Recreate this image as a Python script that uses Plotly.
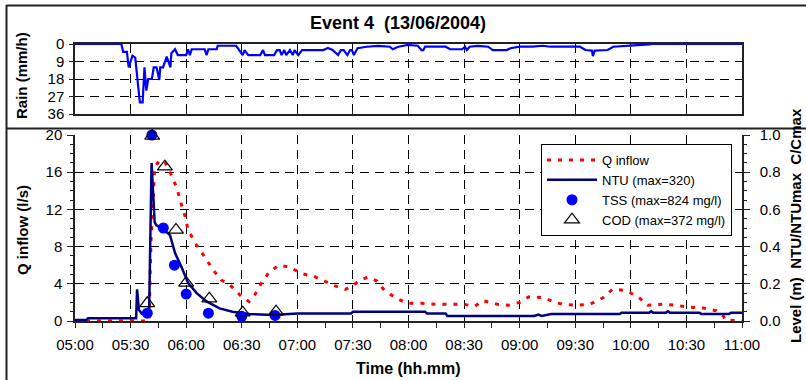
import pandas as pd
import plotly.graph_objects as go

DAY = "2004-06-13 "

# Rainfall intensity (mm/h)
rain_time = ["05:00:00", "05:25:00", "05:26:00", "05:28:00", "05:29:00", "05:31:00", "05:32:30",
             "05:35:00", "05:36:30", "05:37:30", "05:38:30", "05:39:30", "05:41:30", "05:42:30",
             "05:44:00", "05:45:30", "05:46:00", "05:47:30", "05:49:30", "05:51:30", "05:52:00",
             "05:54:00", "05:55:30", "06:00:00", "06:01:00", "06:02:00", "06:03:00", "06:10:00",
             "06:11:00", "06:12:00", "06:16:30", "06:17:00", "06:27:00", "06:28:30", "06:30:30",
             "06:31:30", "06:33:30", "06:40:00", "06:41:30", "06:42:30", "06:47:30", "06:49:00",
             "06:50:30", "06:51:30", "06:53:00", "06:54:00", "06:56:00", "06:57:30", "06:58:30",
             "07:00:30", "07:02:30", "07:14:00", "07:16:30", "07:19:00", "07:22:00", "07:23:30",
             "07:25:00", "07:27:00", "07:28:30", "07:29:30", "07:30:30", "07:32:30", "07:37:30",
             "07:43:30", "07:50:00", "07:51:30", "07:54:30", "07:59:30", "08:05:00", "08:07:00",
             "08:08:00", "08:09:00", "08:20:00", "08:22:30", "08:29:00", "08:30:30", "08:31:30",
             "08:33:00", "08:37:30", "08:43:00", "08:45:30", "08:53:00", "08:55:00", "09:00:00",
             "09:07:00", "09:12:30", "09:16:30", "09:32:30", "09:35:30", "09:39:00", "09:39:30",
             "09:40:30", "09:47:30", "09:50:30", "09:59:30", "10:03:00", "10:10:00", "10:11:30",
             "11:00:00"]
rain_mmh = [0, 0, 4, 4, 12, 6, 7,
            30, 30, 12, 24, 18, 18, 12,
            12, 18.5, 12, 12, 6.5, 12, 4.7,
            2.7, 5.7, 5.7, 2.7, 5.7, 2.7, 2.7,
            5.7, 2.7, 2.7, 0.9, 0.9, 2.7, 5.7,
            3.1, 5.7, 5.7, 3.1, 5.7, 5.7, 3.1,
            3.1, 5.7, 3.1, 5.7, 3.1, 5.7, 3.1,
            5.7, 3.1, 3.1, 2.0, 3.1, 5.7, 3.1,
            3.1, 5.7, 3.1, 3.1, 5.7, 2.2, 1.4,
            1.0, 1.4, 2.7, 1.4, 0.5, 0.9, 3.1,
            3.1, 1.4, 1.4, 2.7, 2.7, 1.4, 3.1,
            1.4, 1.0, 1.4, 3.1, 3.1, 2.2, 1.4,
            1.4, 0.9, 1.4, 1.4, 3.1, 3.4, 6.2,
            3.4, 3.1, 1.4, 1.0, 0.5, 0.15, 0,
            0]

# Inflow (l/s)
q_time = ["05:00", "05:40", "05:41", "05:43", "05:46", "05:48:30", "05:51:30", "05:55", "05:57",
          "05:59:30", "06:01", "06:05:30", "06:10", "06:14:30", "06:19", "06:23:30", "06:30",
          "06:34", "06:37", "06:41", "06:45", "06:50", "06:56", "07:02", "07:09", "07:15",
          "07:20", "07:26", "07:30", "07:33", "07:38", "07:43", "07:47", "07:53", "07:59",
          "08:07", "08:14", "08:21", "08:29", "08:36", "08:40", "08:48", "08:54", "09:00",
          "09:05", "09:13", "09:18", "09:23", "09:31", "09:38", "09:45", "09:50", "09:57",
          "10:04", "10:09", "10:17", "10:24", "10:31", "10:39", "10:46", "10:50", "10:51",
          "10:57", "11:00"]
q_inflow = [0, 0, 8.5, 16.6, 17.3, 17.1, 15.9, 14.3, 12.8,
            11.2, 9.8, 8.2, 6.9, 5.5, 4.4, 3.9, 2.6,
            2.1, 2.8, 4.2, 5.3, 6.0, 5.8, 5.1, 4.8, 4.3,
            3.8, 3.4, 3.8, 4.3, 4.7, 4.3, 3.3, 2.5, 1.9,
            1.9, 1.8, 1.8, 1.8, 1.6, 2.2, 1.8, 1.7, 2.0,
            2.6, 2.5, 2.1, 1.8, 1.7, 1.8, 2.5, 3.4, 3.3,
            2.6, 1.7, 1.8, 1.7, 1.5, 1.4, 1.1, 0.5, 0.1,
            0, 0]

# Turbidity normalised by its maximum (NTU/NTUmax)
ntu_time = ["05:00", "05:06", "05:07", "05:33", "05:33:30", "05:34:30", "05:36", "05:40",
            "05:41:20", "05:42:30", "05:43", "05:44", "05:48", "05:51:20", "05:54", "05:57:30",
            "06:01", "06:05:40", "06:11", "06:18", "06:25", "06:34", "06:47", "07:00", "07:29",
            "07:30", "08:09", "08:10", "08:20", "08:21", "09:08", "09:10", "09:12", "09:17",
            "09:54", "09:55", "10:10", "10:11", "10:12", "10:19", "10:20", "10:21", "10:37",
            "10:38", "10:53", "10:54", "11:00"]
ntu_norm = [0.005, 0.005, 0.015, 0.015, 0.17, 0.06, 0.04, 0.045,
            0.85, 0.60, 0.53, 0.515, 0.49, 0.46, 0.365, 0.29,
            0.205, 0.15, 0.105, 0.068, 0.05, 0.038, 0.032, 0.04, 0.04,
            0.05, 0.05, 0.04, 0.04, 0.027, 0.027, 0.035, 0.027, 0.038,
            0.038, 0.045, 0.045, 0.052, 0.045, 0.045, 0.052, 0.045, 0.045,
            0.038, 0.038, 0.045, 0.045]

# Grab samples normalised by their maxima (C/Cmax)
tss_time = ["05:39", "05:41:30", "05:47:40", "05:53:40", "06:00", "06:12", "06:30", "06:48"]
tss_norm = [0.042, 1.0, 0.50, 0.30, 0.145, 0.042, 0.025, 0.03]
cod_time = ["05:39", "05:41:40", "05:48:30", "05:54:30", "06:00", "06:12:30", "06:30:30", "06:48:30"]
cod_norm = [0.095, 0.995, 0.83, 0.49, 0.205, 0.12, 0.045, 0.05]


def stamp(times):
    return pd.to_datetime([DAY + t for t in times], format="mixed")


W, H = 806, 380


def px(x):
    return x / W


def py(y):
    return 1 - y / H


T0, T1 = DAY + "05:00", DAY + "11:00"
HALF_HOUR = 30 * 60 * 1000
QUARTER = 15 * 60 * 1000
FONT = "Liberation Sans, Arial, sans-serif"
AXLINE = "#222222"
GRID = dict(showgrid=True, gridcolor="black", gridwidth=1, griddash="9px,6px")

fig = go.Figure()
fig.add_trace(go.Scatter(x=stamp(rain_time), y=rain_mmh, xaxis="x", yaxis="y", mode="lines",
                         line=dict(color="#0000FF", width=2.2), showlegend=False, name="Rain"))
fig.add_trace(go.Scatter(x=stamp(q_time), y=q_inflow, xaxis="x2", yaxis="y2", mode="lines",
                         line=dict(color="#FF0000", width=3, dash="4px,7px"), name="Q inflow"))
fig.add_trace(go.Scatter(x=stamp(ntu_time), y=ntu_norm, xaxis="x2", yaxis="y3", mode="lines",
                         line=dict(color="#000080", width=2.5), name="NTU (max=320)"))
fig.add_trace(go.Scatter(x=stamp(tss_time), y=tss_norm, xaxis="x2", yaxis="y3", mode="markers",
                         marker=dict(symbol="circle", size=11, color="#0000FF"), cliponaxis=False,
                         name="TSS (max=824 mg/l)"))
fig.add_trace(go.Scatter(x=stamp(cod_time), y=cod_norm, xaxis="x2", yaxis="y3", mode="markers",
                         marker=dict(symbol="triangle-up-open", size=13, color="black",
                                     line=dict(width=1.2, color="black")), cliponaxis=False,
                         name="COD (max=372 mg/l)"))

xdom = [px(75), px(742)]
tickfont = dict(family=FONT, size=15, color="black")

fig.update_layout(
    width=W, height=H,
    margin=dict(l=0, r=0, t=0, b=0, pad=0, autoexpand=False),
    paper_bgcolor="white", plot_bgcolor="white",
    font=dict(family=FONT, color="black"),
    title=dict(text="<b>Event 4  (13/06/2004)</b>", x=px(398), y=py(23), xanchor="center",
               yanchor="middle", font=dict(family=FONT, size=18, color="black")),
    xaxis=dict(domain=xdom, anchor="y", range=[T0, T1], type="date", tick0=T0, dtick=HALF_HOUR,
               showticklabels=False, ticks="inside", ticklen=4, tickcolor=AXLINE,
               showline=True, mirror=True, linecolor=AXLINE, linewidth=1.5, **GRID),
    yaxis=dict(domain=[py(114), py(44)], anchor="x", range=[36, 0], tickvals=[0, 9, 18, 27, 36],
               ticks="outside", ticklen=4, tickcolor=AXLINE, tickfont=tickfont, zeroline=False,
               ticklabelstandoff=2,
               showline=True, mirror=True, linecolor=AXLINE, linewidth=1.5, **GRID),
    xaxis2=dict(domain=xdom, anchor="y2", range=[T0, T1], type="date", tick0=T0, dtick=HALF_HOUR,
                tickformat="%H:%M", ticks="outside", ticklen=5, tickcolor=AXLINE, tickfont=tickfont,
                ticklabelstandoff=4,
                minor=dict(dtick=QUARTER, tick0=T0, ticks="outside", ticklen=5, tickcolor=AXLINE,
                           showgrid=False),
                showline=True, linecolor=AXLINE, linewidth=1.5, **GRID),
    yaxis2=dict(domain=[py(321), py(135)], anchor="x2", range=[0, 20], dtick=4,
                ticks="outside", ticklen=6, tickcolor=AXLINE, tickfont=tickfont, zeroline=False,
                ticklabelstandoff=2,
                minor=dict(dtick=1, ticks="outside", ticklen=3, tickcolor=AXLINE, showgrid=False),
                showline=True, linecolor=AXLINE, linewidth=1.5, **GRID),
    yaxis3=dict(overlaying="y2", anchor="x2", side="right", range=[0, 1], dtick=0.2,
                tickformat=".1f", ticks="outside", ticklen=6, tickcolor=AXLINE, tickfont=tickfont,
                ticklabelstandoff=7,
                minor=dict(dtick=0.05, ticks="outside", ticklen=3, tickcolor=AXLINE, showgrid=False),
                showline=True, linecolor=AXLINE, linewidth=1.5, showgrid=False, zeroline=False),
    legend=dict(x=px(541), y=py(144), xanchor="left", yanchor="top", bgcolor="white",
                bordercolor="black", borderwidth=1, itemwidth=50,
                font=dict(family=FONT, size=13, color="black")),
    showlegend=True,
)

axis_title_font = dict(family=FONT, size=15, color="black")
label = dict(xref="paper", yref="paper", xanchor="center", yanchor="middle", showarrow=False)
fig.add_annotation(text="<b>Rain (mm/h)</b>", x=px(22), y=py(76), textangle=-90,
                   font=axis_title_font, **label)
fig.add_annotation(text="<b>Q inflow (l/s)</b>", x=px(22), y=py(230), textangle=-90,
                   font=axis_title_font, **label)
fig.add_annotation(text="<b>Level (m)  NTU/NTUmax  C/Cmax</b>", x=px(796), y=py(226),
                   textangle=-90, font=axis_title_font, **label)
fig.add_annotation(text="<b>Time (hh.mm)</b>", x=px(409), y=py(368),
                   font=dict(family=FONT, size=16, color="black"), **label)

# Outer frame: left edge, top edge and the rule between the two panels
frame = dict(color="#222222", width=2)
fig.add_shape(type="line", xref="paper", yref="paper", x0=px(6.5), x1=px(6.5), y0=py(5), y1=0, line=frame)
fig.add_shape(type="line", xref="paper", yref="paper", x0=px(6.5), x1=1, y0=py(5.5), y1=py(5.5), line=frame)
fig.add_shape(type="line", xref="paper", yref="paper", x0=px(6.5), x1=1, y0=py(128.5), y1=py(128.5), line=frame)

fig.write_html("out.html")
